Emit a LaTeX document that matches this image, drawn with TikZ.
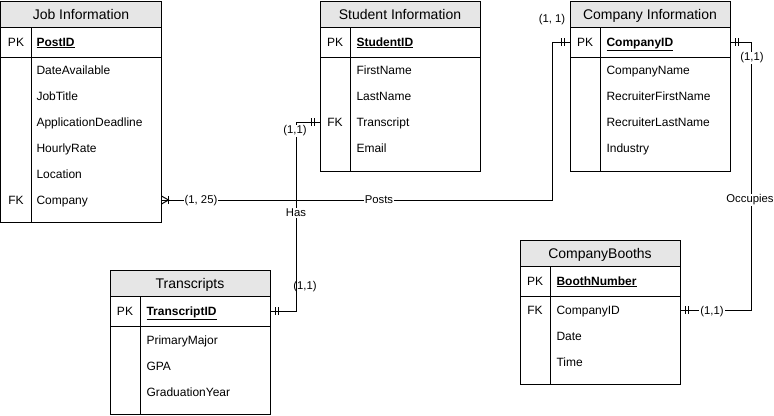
\documentclass[tikz,border=0pt]{standalone}
\usepackage{fontspec}
\setmainfont{Liberation Sans}
\usetikzlibrary{calc}
\definecolor{hdr}{RGB}{230,230,230}
\newcommand\barsL[1]{\draw ($(#1)+(-5,-4)$) -- ++(0,8) ($(#1)+(-8,-4)$) -- ++(0,8);}
\newcommand\barsR[1]{\draw ($(#1)+(5,-4)$) -- ++(0,8) ($(#1)+(8,-4)$) -- ++(0,8);}
\begin{document}
\begin{tikzpicture}[x=1bp,y=-1bp,line width=1bp,
  hdrbox/.style={draw,fill=hdr,minimum width=160bp,minimum height=26bp,inner sep=0,text height=12bp,text depth=2bp,font=\fontsize{14bp}{16bp}\selectfont},
  boxpart/.style={draw,minimum width=160bp,inner sep=0},
  rowbox/.style={minimum width=160bp,minimum height=26bp,inner sep=0},
  txt/.style={font=\fontsize{12bp}{14bp}\selectfont,anchor=west,inner sep=0,text height=10bp,text depth=2bp},
  key/.style={font=\fontsize{12bp}{14bp}\selectfont,inner sep=0,text height=10bp,text depth=2bp},
  lbl/.style={font=\fontsize{11.3bp}{13bp}\selectfont,fill=white,inner sep=1bp},
  conn/.style={draw,line width=1bp}]
\useasboundingbox (0,0) rectangle (774,415);

% ---------- Job Information ----------
\node[hdrbox] (jobH) at (81,14) {Job Information};
\node[boxpart,minimum height=30bp] (jobPK) at (81,42) {};
\node[boxpart,minimum height=165bp] (jobB) at (81,139.5) {};
\draw (31,27) -- (31,222);
\node[key] (jobk1) at (16,42) {PK};
\node[txt] (jobf0) at (36,42) {\underline{\textbf{PostID}}};
\node[txt] (jobf1) at (36,70) {DateAvailable};
\node[txt] (jobf2) at (36,96) {JobTitle};
\node[txt] (jobf3) at (36,122) {ApplicationDeadline};
\node[txt] (jobf4) at (36,148) {HourlyRate};
\node[txt] (jobf5) at (36,174) {Location};
\node[key] (jobk2) at (16,200) {FK};
\node[txt] (jobf6) at (36,200) {Company};
\node[rowbox] (jobCompany) at (81,200) {};

% ---------- Student Information ----------
\node[hdrbox] (stuH) at (400,14) {Student Information};
\node[boxpart,minimum height=30bp] (stuPK) at (400,42) {};
\node[boxpart,minimum height=114bp] (stuB) at (400,114) {};
\draw (350,27) -- (350,171);
\node[key] (stuk1) at (335,42) {PK};
\node[txt] (stuf0) at (356,42) {\underline{\textbf{StudentID}}};
\node[txt] (stuf1) at (356,70) {FirstName};
\node[txt] (stuf2) at (356,96) {LastName};
\node[key] (stuk2) at (335,122) {FK};
\node[txt] (stuf3) at (356,122) {Transcript};
\node[txt] (stuf4) at (356,148) {Email};
\node[rowbox] (stuTranscript) at (400,122) {};

% ---------- Company Information ----------
\node[hdrbox] (comH) at (650,14) {Company Information};
\node[boxpart,minimum height=30bp] (comPK) at (650,42) {};
\node[boxpart,minimum height=114bp] (comB) at (650,114) {};
\draw (600,27) -- (600,171);
\node[key] (comk1) at (585,42) {PK};
\node[txt] (comf0) at (606,42) {\underline{\textbf{CompanyID}}};
\node[txt] (comf1) at (606,70) {CompanyName};
\node[txt] (comf2) at (606,96) {RecruiterFirstName};
\node[txt] (comf3) at (606,122) {RecruiterLastName};
\node[txt] (comf4) at (606,148) {Industry};

% ---------- Transcripts ----------
\node[hdrbox] (trH) at (190,283) {Transcripts};
\node[boxpart,minimum height=30bp] (trPK) at (190,311) {};
\node[boxpart,minimum height=88bp] (trB) at (190,370) {};
\draw (140,296) -- (140,414);
\node[key] (trk1) at (125,311) {PK};
\node[txt] (trf0) at (146,311) {\underline{\textbf{TranscriptID}}};
\node[txt] (trf1) at (146,340) {PrimaryMajor};
\node[txt] (trf2) at (146,366) {GPA};
\node[txt] (trf3) at (146,392) {GraduationYear};

% ---------- CompanyBooths ----------
\node[hdrbox] (boH) at (600,253) {CompanyBooths};
\node[boxpart,minimum height=30bp] (boPK) at (600,281) {};
\node[boxpart,minimum height=88bp] (boB) at (600,340) {};
\draw (550,266) -- (550,384);
\node[key] (bok1) at (535,281) {PK};
\node[txt] (bof0) at (556,281) {\underline{\textbf{BoothNumber}}};
\node[key] (bok2) at (535,310) {FK};
\node[txt] (bof1) at (556,310) {CompanyID};
\node[txt] (bof2) at (556,336) {Date};
\node[txt] (bof3) at (556,362) {Time};
\node[rowbox] (boCompanyID) at (600,310) {};

% ---------- Connectors ----------
% Posts
\draw[conn] (jobCompany.east) -| (552,42) -- (comPK.west);
\draw ($(jobCompany.east)+(0,-4)$) -- ($(jobCompany.east)+(7,0)$) -- ($(jobCompany.east)+(0,4)$);
\draw ($(jobCompany.east)+(7,-4)$) -- ++(0,8);
\barsL{comPK.west}
\node[lbl] (l125) at (201,201) {(1, 25)};
\node[lbl] (lposts) at (379,200) {Posts};
\node[lbl,fill=none] (l11a) at (552,20) {(1, 1)};

% Has
\draw[conn] (stuTranscript.west) -| (296,311) -- (trPK.east);
\barsL{stuTranscript.west}
\barsR{trPK.east}
\node[lbl] (l11b) at (295,131) {(1,1)};
\node[lbl] (lhas) at (296,213) {Has};
\node[lbl,fill=none] (l11c) at (305,287) {(1,1)};

% Occupies
\draw[conn] (comPK.east) -| (751,310) -- (boCompanyID.east);
\barsR{comPK.east}
\barsR{boCompanyID.east}
\node[lbl] (l11d) at (752,58) {(1,1)};
\node[lbl] (locc) at (750,200) {Occupies};
\node[lbl] (l11e) at (712,312) {(1,1)};
\end{tikzpicture}
\end{document}
